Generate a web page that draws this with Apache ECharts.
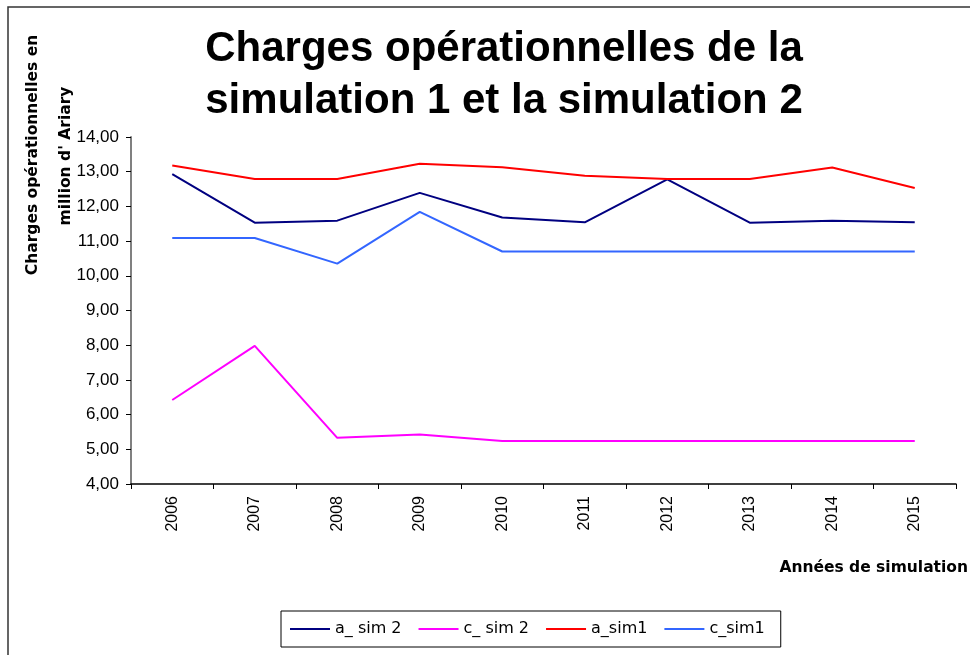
<!DOCTYPE html>
<html>
<head>
<meta charset="utf-8">
<style>
  html, body { margin: 0; padding: 0; background: #fff; }
  #chart { width: 970px; height: 655px; }
</style>
<script src="https://cdn.jsdelivr.net/npm/echarts@6/dist/echarts.min.js"></script>
</head>
<body>
<div id="chart"></div>
<script>
// Charges opérationnelles — simulation 1 vs simulation 2
var years = ['2006', '2007', '2008', '2009', '2010', '2011', '2012', '2013', '2014', '2015'];

var aSim2 = [12.93, 11.53, 11.59, 12.39, 11.68, 11.54, 12.78, 11.53, 11.59, 11.54];
var cSim2 = [6.42, 7.98, 5.33, 5.43, 5.24, 5.24, 5.24, 5.24, 5.24, 5.24];
var aSim1 = [13.18, 12.79, 12.79, 13.23, 13.13, 12.88, 12.79, 12.79, 13.12, 12.53];
var cSim1 = [11.09, 11.09, 10.35, 11.84, 10.70, 10.70, 10.70, 10.70, 10.70, 10.70];

var seriesNames = ['a_ sim 2', 'c_ sim 2', 'a_sim1', 'c_sim1'];

var chart = echarts.init(document.getElementById('chart'));

function lineSeries(name, data, color) {
  return {
    name: name, type: 'line', data: data,
    symbol: 'none', lineStyle: { color: color, width: 2 }, itemStyle: { color: color },
    animation: false
  };
}

var comic = '"DejaVu Sans", sans-serif';
var arial = '"Liberation Sans", Arial, sans-serif';

chart.setOption({
  backgroundColor: '#fff',
  animation: false,
  title: {
    text: 'Charges opérationnelles de la\nsimulation 1 et la simulation 2',
    left: 499, top: 18, textAlign: 'center',
    textStyle: { fontFamily: arial, fontWeight: 'bold', fontSize: 42, lineHeight: 52, color: '#000' }
  },
  legend: {
    data: seriesNames,
    left: 281, top: 611,
    padding: [10, 16, 10, 9],
    itemGap: 17,
    itemWidth: 40, itemHeight: 2,
    icon: 'rect',
    borderColor: '#000', borderWidth: 1,
    textStyle: { fontFamily: comic, fontSize: 16, color: '#000' }
  },
  grid: { left: 131, top: 137, right: 14, bottom: 171 },
  xAxis: {
    type: 'category', data: years, boundaryGap: true,
    axisLine: { lineStyle: { color: '#000', width: 1.5 } },
    axisTick: { show: true, length: 5, lineStyle: { color: '#000' } },
    axisLabel: { rotate: 90, margin: 12, fontSize: 16, color: '#000', fontFamily: arial },
    splitLine: { show: false }
  },
  yAxis: {
    type: 'value', min: 4, max: 14, interval: 1,
    axisLine: { show: true, lineStyle: { color: '#808080', width: 2 } },
    axisTick: { show: true, length: 5, lineStyle: { color: '#000' } },
    axisLabel: {
      margin: 12, fontSize: 17, color: '#000', fontFamily: arial,
      formatter: function(v) { return v.toFixed(2).replace('.', ','); }
    },
    splitLine: { show: false }
  },
  graphic: [
    { type: 'rect', shape: { x: 8, y: 7, width: 1000, height: 700 }, style: { fill: 'none', stroke: '#333', lineWidth: 1.5 }, silent: true, z: -1 },
    { type: 'text', x: 33, y: 155, rotation: Math.PI / 2,
      style: { text: 'Charges opérationnelles en', fontFamily: comic, fontWeight: 'bold', fontSize: 15.5, fill: '#000', align: 'center', verticalAlign: 'middle' } },
    { type: 'text', x: 66, y: 156, rotation: Math.PI / 2,
      style: { text: "million d' Ariary", fontFamily: comic, fontWeight: 'bold', fontSize: 15.5, fill: '#000', align: 'center', verticalAlign: 'middle' } },
    { type: 'text', x: 968, y: 568,
      style: { text: 'Années de simulation', fontFamily: comic, fontWeight: 'bold', fontSize: 15.5, fill: '#000', align: 'right', verticalAlign: 'middle' } }
  ],
  series: [
    lineSeries(seriesNames[0], aSim2, '#000080'),
    lineSeries(seriesNames[1], cSim2, '#FF00FF'),
    lineSeries(seriesNames[2], aSim1, '#FF0000'),
    lineSeries(seriesNames[3], cSim1, '#3366FF')
  ]
});
</script>
</body>
</html>
